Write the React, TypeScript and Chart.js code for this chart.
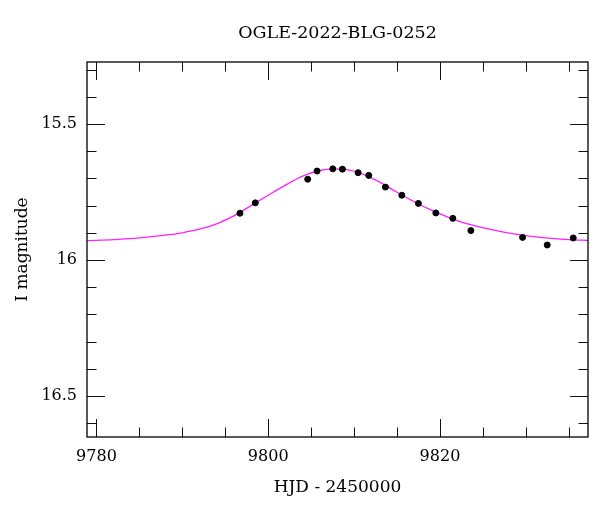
import React, { useEffect, useRef } from "react";
import { Chart, registerables } from "chart.js";

Chart.register(...registerables);

const titleText = "OGLE-2022-BLG-0252";
const xAxisTitle = "HJD - 2450000";
const yAxisTitle = "I magnitude";

// Observed points
const obsHJD = [
  9796.71, 9798.5, 9804.6, 9805.69, 9807.52, 9808.64, 9810.47, 9811.71, 9813.65,
  9815.56, 9817.49, 9819.52, 9821.5, 9823.6, 9829.62, 9832.49, 9835.52,
];
const obsMag = [
  15.828, 15.79, 15.703, 15.673, 15.665, 15.666, 15.679, 15.689, 15.732,
  15.762, 15.792, 15.827, 15.847, 15.892, 15.917, 15.945, 15.919,
];

// Model curve
const modelHJD = [
  9778.9, 9782, 9785, 9788, 9790, 9792, 9794, 9796, 9798, 9800, 9802, 9804, 9806,
  9807.5, 9809, 9811, 9813, 9815, 9817, 9819, 9821, 9823, 9826, 9829, 9832, 9835, 9837.3,
];
const modelMag = [
  15.929, 15.925, 15.919, 15.909, 15.9, 15.887, 15.867, 15.838, 15.8, 15.762,
  15.725, 15.692, 15.671, 15.665, 15.667, 15.684, 15.714, 15.751, 15.786, 15.817,
  15.843, 15.865, 15.888, 15.906, 15.918, 15.925, 15.928,
];

// Axis ranges and ticks
const xMin = 9778.9;
const xMax = 9837.24;
const yMin = 15.272;
const yMax = 16.651;
const xMinorTicks = [9780, 9785, 9790, 9795, 9800, 9805, 9810, 9815, 9820, 9825, 9830, 9835];
const xMajorTicks = [9780, 9800, 9820];
const yMinorTicks = [15.3, 15.4, 15.5, 15.6, 15.7, 15.8, 15.9, 16.0, 16.1, 16.2, 16.3, 16.4, 16.5, 16.6];
const yMajorTicks = [15.5, 16.0, 16.5];
const yMajorLabels = ["15.5", "16", "16.5"];

const FONT = "'DejaVu Serif', 'Liberation Serif', serif";

const isMajor = (v: number, majors: number[]) => majors.some((m) => Math.abs(m - v) < 1e-6);

const frameTicks = {
  id: "frameTicks",
  afterDatasetsDraw(chart: any) {
    const { ctx, chartArea } = chart;
    const { left, right, top, bottom } = chartArea;
    const xs = chart.scales.x;
    const ys = chart.scales.y;
    const majorLen = 18;
    const minorLen = 9.5;
    ctx.save();
    ctx.strokeStyle = "#111";
    ctx.lineWidth = 1;
    ctx.beginPath();
    xMinorTicks.forEach((v) => {
      const px = Math.round(xs.getPixelForValue(v)) + 0.5;
      const len = isMajor(v, xMajorTicks) ? majorLen : minorLen;
      ctx.moveTo(px, bottom);
      ctx.lineTo(px, bottom - len);
      ctx.moveTo(px, top);
      ctx.lineTo(px, top + len);
    });
    yMinorTicks.forEach((v) => {
      const py = Math.round(ys.getPixelForValue(v)) + 0.5;
      const len = isMajor(v, yMajorTicks) ? majorLen : minorLen;
      ctx.moveTo(left, py);
      ctx.lineTo(left + len, py);
      ctx.moveTo(right, py);
      ctx.lineTo(right - len, py);
    });
    ctx.stroke();
    ctx.lineWidth = 1.3;
    ctx.strokeStyle = "#000";
    ctx.strokeRect(left, top, right - left, bottom - top);
    // title centred over the plot area
    ctx.fillStyle = "#000";
    ctx.font = `17.5px ${FONT}`;
    ctx.textAlign = "center";
    ctx.textBaseline = "middle";
    ctx.fillText(titleText, (left + right) / 2, 33);
    ctx.restore();
  },
};

export default function App() {
  const canvasRef = useRef<HTMLCanvasElement | null>(null);

  useEffect(() => {
    if (!canvasRef.current) return;
    Chart.defaults.color = "#000";
    const chart = new Chart(canvasRef.current, {
      type: "scatter",
      data: {
        datasets: [
          {
            type: "line",
            label: "model",
            data: modelHJD.map((x, i) => ({ x, y: modelMag[i] })),
            borderColor: "#ff20ff",
            borderWidth: 1.3,
            pointRadius: 0,
            fill: false,
            cubicInterpolationMode: "monotone",
            order: 2,
          } as any,
          {
            type: "scatter",
            label: "data",
            data: obsHJD.map((x, i) => ({ x, y: obsMag[i] })),
            backgroundColor: "#000",
            borderColor: "#000",
            pointRadius: 3,
            order: 1,
          },
        ],
      },
      options: {
        responsive: false,
        animation: false,
        events: [],
        layout: { padding: { top: 62, right: 12, left: 0, bottom: 0 } },
        plugins: {
          legend: { display: false },
          tooltip: { enabled: false },
          title: { display: false },
        },
        scales: {
          x: {
            type: "linear",
            min: xMin,
            max: xMax,
            grid: { display: false, drawTicks: false },
            border: { display: false },
            afterFit: (scale: any) => {
              scale.height = 75;
            },
            afterBuildTicks: (scale: any) => {
              scale.ticks = xMinorTicks.map((v) => ({ value: v }));
            },
            ticks: {
              autoSkip: false,
              maxRotation: 0,
              padding: 10,
              color: "#000",
              font: { family: FONT, size: 16 },
              callback: (v: any) => (isMajor(Number(v), xMajorTicks) ? String(Math.round(Number(v))) : ""),
            },
            title: {
              display: true,
              text: xAxisTitle,
              color: "#000",
              font: { family: FONT, size: 17 },
              padding: { top: 0, bottom: 13.8 },
            },
          },
          y: {
            type: "linear",
            reverse: true,
            min: yMin,
            max: yMax,
            grid: { display: false, drawTicks: false },
            border: { display: false },
            afterFit: (scale: any) => {
              scale.width = 87;
            },
            afterBuildTicks: (scale: any) => {
              scale.ticks = yMinorTicks.map((v) => ({ value: v }));
            },
            ticks: {
              autoSkip: false,
              padding: 10,
              color: "#000",
              font: { family: FONT, size: 16 },
              callback: (v: any) => {
                const idx = yMajorTicks.findIndex((m) => Math.abs(m - Number(v)) < 1e-6);
                return idx >= 0 ? yMajorLabels[idx] : "";
              },
            },
            title: {
              display: true,
              text: yAxisTitle,
              color: "#000",
              font: { family: FONT, size: 17 },
              padding: { top: 12, bottom: 0 },
            },
          },
        },
      },
      plugins: [frameTicks],
    });
    return () => chart.destroy();
  }, []);

  return (
    <div style={{ position: "absolute", left: 0, top: 0, width: 600, height: 512, background: "#fff" }}>
      <canvas ref={canvasRef} width={600} height={512} style={{ display: "block" }} />
    </div>
  );
}
